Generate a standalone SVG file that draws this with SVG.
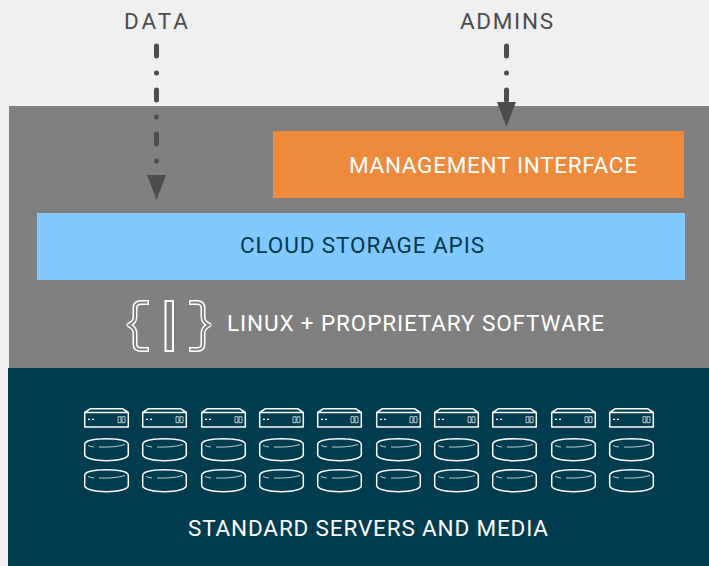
<svg xmlns="http://www.w3.org/2000/svg" width="709" height="566" viewBox="0 0 709 566">
<style>
text{font-family:"Roboto","Liberation Sans",sans-serif;font-size:22.500px;font-weight:400;text-anchor:middle}
.dk{fill:#4d4d4d}.wh{fill:#fff}.blue{fill:#00384d}
.ic{fill:none;stroke:#fff;stroke-width:1.500;stroke-linejoin:round}
.thin{fill:none;stroke:#fff;stroke-width:.9;opacity:.8}
.conn{fill:none;stroke:#4d4d4d;stroke-width:5;stroke-linecap:round;stroke-dasharray:10 17 .01 16.990}
.bro{fill:none;stroke:#fff;stroke-width:5;stroke-linejoin:round}
.bri{fill:none;stroke:#808080;stroke-width:2}
</style>
<defs>
<marker id="ah" markerUnits="userSpaceOnUse" markerWidth="26" markerHeight="20" refX="0" refY="9.500" orient="auto"><path d="M0 0L25 9.500L0 19Z" fill="#4d4d4d"/></marker>
<g id="srv"><path class="ic" d="M.7 4.500H44.300V19H.7ZM.7 4.500L6.500 .7H38.500L44.300 4.500"/><path class="thin" d="M34 8.700h3v6h-3zM38 8.700h3v6h-3z"/><path d="M4 11.300h2M8 11.300h2" stroke="#fff" stroke-width="1.200" fill="none"/></g>
<g id="dsk"><path class="ic" d="M.7 6.500C.7 2.500 11 .7 22.500 .7S44.300 2.500 44.300 6.500V16.500C44.300 20.500 34 22.700 22.500 22.700S.7 20.500 .7 16.500Z"/><path class="thin" d="M15 9C23 9.300 33 9 41 6.500M4 7.500C6 8.300 8 8.800 10 9"/></g>
<g id="brace"><path class="bro" d="M149 302.500H141Q135 302.500 135 308V317Q135 322 129 325Q135 328 135 333V344Q135 349.500 141 349.500H149"/><path class="bri" d="M147.500 302.500H141Q135 302.500 135 308V317Q135 322 129 325Q135 328 135 333V344Q135 349.500 141 349.500H147.500"/></g>
</defs>
<rect width="709" height="566" fill="#f0f0f0"/>
<rect x="9" y="106" width="700" height="262" fill="#808080"/>
<rect x="8" y="368" width="701" height="198" fill="#003c50"/>
<g id="data"><text class="dk" x="156" y="29" textLength="64">DATA</text></g>
<g id="admins"><text class="dk" x="506.500" y="29" textLength="93">ADMINS</text></g>
<g id="management-interface"><rect x="273" y="131" width="411" height="67" fill="#ee8a3c"/><text class="wh" x="493" y="173" textLength="288">MANAGEMENT INTERFACE</text></g>
<g id="cloud-storage-apis"><rect x="37" y="213" width="648" height="67" fill="#80c8ff"/><text class="blue" x="362" y="253" textLength="244">CLOUD STORAGE APIS</text></g>
<g id="linux-software"><use href="#brace"/><use href="#brace" transform="translate(338 0) scale(-1 1)"/><rect x="165.500" y="301" width="7.500" height="50" fill="none" stroke="#fff" stroke-width="2"/><text class="wh" x="415.500" y="331" textLength="377">LINUX + PROPRIETARY SOFTWARE</text></g>
<g id="servers-and-media">
<g id="servers">
<use href="#srv" x="84" y="408"/><use href="#srv" x="142" y="408"/><use href="#srv" x="201" y="408"/><use href="#srv" x="259" y="408"/><use href="#srv" x="317" y="408"/><use href="#srv" x="376" y="408"/><use href="#srv" x="434" y="408"/><use href="#srv" x="492" y="408"/><use href="#srv" x="551" y="408"/><use href="#srv" x="609" y="408"/>
</g>
<g id="disks-1">
<use href="#dsk" x="84" y="438"/><use href="#dsk" x="142" y="438"/><use href="#dsk" x="201" y="438"/><use href="#dsk" x="259" y="438"/><use href="#dsk" x="317" y="438"/><use href="#dsk" x="376" y="438"/><use href="#dsk" x="434" y="438"/><use href="#dsk" x="492" y="438"/><use href="#dsk" x="551" y="438"/><use href="#dsk" x="609" y="438"/>
</g>
<g id="disks-2">
<use href="#dsk" x="84" y="469"/><use href="#dsk" x="142" y="469"/><use href="#dsk" x="201" y="469"/><use href="#dsk" x="259" y="469"/><use href="#dsk" x="317" y="469"/><use href="#dsk" x="376" y="469"/><use href="#dsk" x="434" y="469"/><use href="#dsk" x="492" y="469"/><use href="#dsk" x="551" y="469"/><use href="#dsk" x="609" y="469"/>
</g>
<text class="wh" x="368" y="536" textLength="360">STANDARD SERVERS AND MEDIA</text>
</g>
<g id="connectors">
<path class="conn" d="M156.500 46V175" marker-end="url(#ah)"/>
<path class="conn" d="M506.500 46V102" marker-end="url(#ah)"/>
</g>
</svg>
